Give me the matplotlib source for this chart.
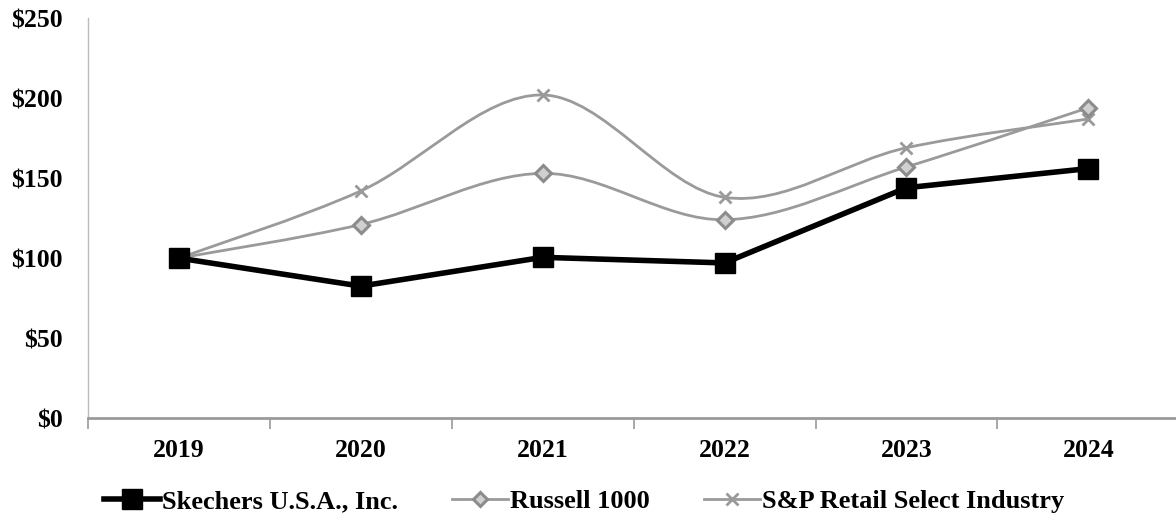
import matplotlib
matplotlib.use("Agg")
import matplotlib.pyplot as plt
from matplotlib.path import Path
from matplotlib.patches import PathPatch
from matplotlib.lines import Line2D

years = ['2019', '2020', '2021', '2022', '2023', '2024']
skechers = [100, 82.5, 100.5, 97, 144, 156]
russell = [100, 121, 153, 124, 157, 194]
sp_retail = [100, 142, 202, 138, 169, 187]
y_ticks = [0, 50, 100, 150, 200, 250]
y_labels = ['$0', '$50', '$100', '$150', '$200', '$250']

GRAY = '#9a9a9a'
plt.rcParams['font.family'] = ['Liberation Serif', 'DejaVu Serif']
plt.rcParams['font.weight'] = 'bold'


def smooth_path(xs, ys):
    # Catmull-Rom through the points, written as cubic Bezier segments
    pts = list(zip(xs, ys))
    verts = [pts[0]]
    codes = [Path.MOVETO]
    n = len(pts)
    for i in range(n - 1):
        p0 = pts[max(i - 1, 0)]
        p1 = pts[i]
        p2 = pts[i + 1]
        p3 = pts[min(i + 2, n - 1)]
        c1 = (p1[0] + (p2[0] - p0[0]) / 6, p1[1] + (p2[1] - p0[1]) / 6)
        c2 = (p2[0] - (p3[0] - p1[0]) / 6, p2[1] - (p3[1] - p1[1]) / 6)
        verts += [c1, c2, p2]
        codes += [Path.CURVE4] * 3
    return Path(verts, codes)


fig = plt.figure(figsize=(11.76, 5.2), dpi=100)
ax = fig.add_axes([0.0748, 0.196, 0.928, 0.769])
x = list(range(len(years)))

for series in (sp_retail, russell):
    ax.add_patch(PathPatch(smooth_path(x, series), facecolor='none',
                           edgecolor=GRAY, lw=2, zorder=2))
ax.plot(x, sp_retail, ls='none', marker='x', ms=9, mew=2, color=GRAY, zorder=3)
ax.plot(x, russell, ls='none', marker='D', ms=8, mew=2.2, mec='#8c8c8c',
        mfc='#d0d0d0', zorder=3)
ax.plot(x, skechers, color='black', lw=4, marker='s', ms=15, zorder=4)

ax.set_xlim(-0.5, 5.5)
ax.set_ylim(0, 250)
ax.set_yticks(y_ticks)
ax.set_yticklabels(y_labels)
ax.set_xticks(x)
ax.set_xticklabels(years)
ax.set_xticks([i - 0.5 for i in range(len(years) + 1)], minor=True)
ax.tick_params(axis='x', which='major', length=0, pad=15, labelsize=18.5)
ax.tick_params(axis='x', which='minor', length=8, width=1.2, color=GRAY)
ax.tick_params(axis='y', length=0, pad=18, labelsize=18.5)
for spine in ('top', 'right'):
    ax.spines[spine].set_visible(False)
ax.spines['left'].set_color('#bbbbbb')
ax.spines['left'].set_linewidth(1)
ax.spines['bottom'].set_color(GRAY)
ax.spines['bottom'].set_linewidth(2)

handles = [
    Line2D([], [], color='black', lw=4, marker='s', ms=15),
    Line2D([], [], color=GRAY, lw=2, marker='D', ms=7, mew=2.2, mec='#8c8c8c', mfc='#d0d0d0'),
    Line2D([], [], color=GRAY, lw=2, marker='x', ms=8, mew=2),
]
fig.legend(handles, ['Skechers U.S.A., Inc.', 'Russell 1000', 'S&P Retail Select Industry'],
           loc='center', bbox_to_anchor=(0.497, 0.036), ncol=3, frameon=False,
           fontsize=19, handlelength=2.1, handletextpad=0.1, columnspacing=2.05)

fig.savefig('out.png', dpi=100)
